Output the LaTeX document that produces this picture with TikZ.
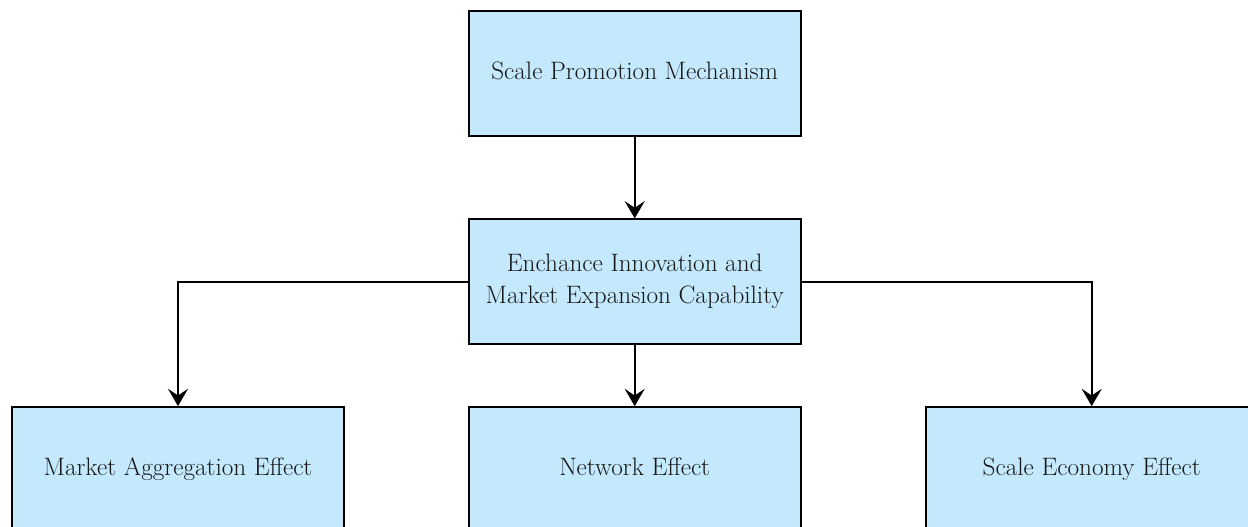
\documentclass[tikz,border=0pt]{standalone}
\usetikzlibrary{arrows.meta}
\definecolor{boxfill}{RGB}{196,232,252}
\definecolor{txt}{RGB}{24,24,24}
\tikzset{
  box/.style={draw=black, line width=1.5pt, fill=boxfill, minimum width=249pt, minimum height=93.5pt,
    inner sep=0pt, align=center, text=txt, font=\rmfamily\fontsize{18.9}{24}\selectfont},
  oneline/.style={text height=13pt, text depth=4pt},
  link/.style={line width=1.5pt, -{Stealth[length=13pt,width=15pt,inset=5pt]}},
}
\begin{document}
\begin{tikzpicture}[x=0.75pt,y=-0.75pt]
\useasboundingbox (0,0) rectangle (1248,527);
\clip (0,0) rectangle (1248,527);
\node[box,oneline] (top) at (634.7,73.5) {Scale Promotion Mechanism};
\node[box] (mid) at (634.7,281.8) {Enchance Innovation and\\Market Expansion Capability};
\node[box,oneline] (left) at (178,469.5) {Market Aggregation Effect};
\node[box,oneline] (cen) at (634.7,469.5) {Network Effect};
\node[box,oneline] (right) at (1091.7,469.5) {Scale Economy Effect};
\draw[link] (top) -- (mid);
\draw[link] (mid) -- (cen);
\draw[link] (mid.west) -| (left.north);
\draw[link] (mid.east) -| (right.north);
\end{tikzpicture}
\end{document}
